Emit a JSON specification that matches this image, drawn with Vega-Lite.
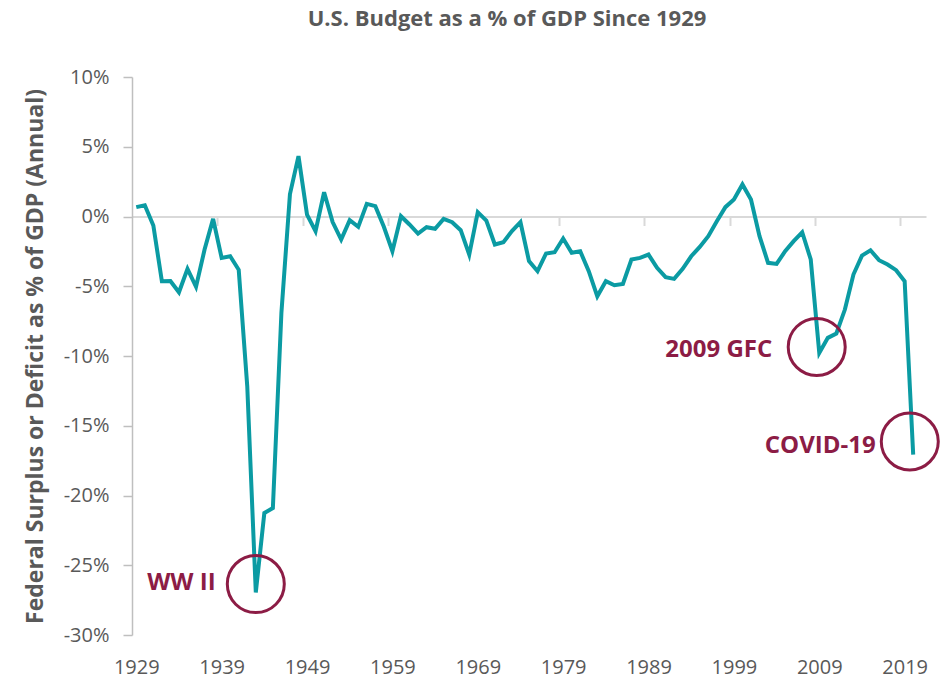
{
  "$schema": "https://vega.github.io/schema/vega-lite/v6.json",
  "width": 794,
  "height": 558,
  "autosize": "none",
  "padding": {"left": 132, "top": 77, "right": 26, "bottom": 50},
  "background": "white",
  "title": {"text": "U.S. Budget as a % of GDP Since 1929", "font": "Open Sans", "fontSize": 22, "fontWeight": "bold", "color": "#595959", "anchor": "middle", "dx": -22, "offset": 36},
  "config": {"view": {"stroke": null}, "font": "Open Sans"},
  "datasets": {
    "budget": [
      {"year": 1929, "pct": 0.67}, {"year": 1930, "pct": 0.81}, {"year": 1931, "pct": -0.65}, {"year": 1932, "pct": -4.64},
      {"year": 1933, "pct": -4.62}, {"year": 1934, "pct": -5.43}, {"year": 1935, "pct": -3.75}, {"year": 1936, "pct": -5.04},
      {"year": 1937, "pct": -2.37}, {"year": 1938, "pct": -0.17}, {"year": 1939, "pct": -2.97}, {"year": 1940, "pct": -2.85},
      {"year": 1941, "pct": -3.82}, {"year": 1942, "pct": -12.17}, {"year": 1943, "pct": -26.95}, {"year": 1944, "pct": -21.26},
      {"year": 1945, "pct": -20.9}, {"year": 1946, "pct": -6.9}, {"year": 1947, "pct": 1.6}, {"year": 1948, "pct": 4.33},
      {"year": 1949, "pct": 0.14}, {"year": 1950, "pct": -1.05}, {"year": 1951, "pct": 1.74}, {"year": 1952, "pct": -0.4},
      {"year": 1953, "pct": -1.65}, {"year": 1954, "pct": -0.26}, {"year": 1955, "pct": -0.74}, {"year": 1956, "pct": 0.91},
      {"year": 1957, "pct": 0.74}, {"year": 1958, "pct": -0.74}, {"year": 1959, "pct": -2.49}, {"year": 1960, "pct": 0.02},
      {"year": 1961, "pct": -0.57}, {"year": 1962, "pct": -1.22}, {"year": 1963, "pct": -0.77}, {"year": 1964, "pct": -0.88},
      {"year": 1965, "pct": -0.17}, {"year": 1966, "pct": -0.41}, {"year": 1967, "pct": -0.98}, {"year": 1968, "pct": -2.73},
      {"year": 1969, "pct": 0.31}, {"year": 1970, "pct": -0.29}, {"year": 1971, "pct": -2.01}, {"year": 1972, "pct": -1.84},
      {"year": 1973, "pct": -1.05}, {"year": 1974, "pct": -0.41}, {"year": 1975, "pct": -3.2}, {"year": 1976, "pct": -3.92},
      {"year": 1977, "pct": -2.65}, {"year": 1978, "pct": -2.56}, {"year": 1979, "pct": -1.58}, {"year": 1980, "pct": -2.6},
      {"year": 1981, "pct": -2.49}, {"year": 1982, "pct": -3.92}, {"year": 1983, "pct": -5.72}, {"year": 1984, "pct": -4.64},
      {"year": 1985, "pct": -4.93}, {"year": 1986, "pct": -4.83}, {"year": 1987, "pct": -3.08}, {"year": 1988, "pct": -2.97},
      {"year": 1989, "pct": -2.73}, {"year": 1990, "pct": -3.68}, {"year": 1991, "pct": -4.35}, {"year": 1992, "pct": -4.47},
      {"year": 1993, "pct": -3.75}, {"year": 1994, "pct": -2.85}, {"year": 1995, "pct": -2.18}, {"year": 1996, "pct": -1.41},
      {"year": 1997, "pct": -0.34}, {"year": 1998, "pct": 0.67}, {"year": 1999, "pct": 1.22}, {"year": 2000, "pct": 2.3},
      {"year": 2001, "pct": 1.22}, {"year": 2002, "pct": -1.41}, {"year": 2003, "pct": -3.32}, {"year": 2004, "pct": -3.4},
      {"year": 2005, "pct": -2.49}, {"year": 2006, "pct": -1.77}, {"year": 2007, "pct": -1.13}, {"year": 2008, "pct": -3.08},
      {"year": 2009, "pct": -9.78}, {"year": 2010, "pct": -8.7}, {"year": 2011, "pct": -8.39}, {"year": 2012, "pct": -6.67},
      {"year": 2013, "pct": -4.16}, {"year": 2014, "pct": -2.8}, {"year": 2015, "pct": -2.42}, {"year": 2016, "pct": -3.13},
      {"year": 2017, "pct": -3.44}, {"year": 2018, "pct": -3.85}, {"year": 2019, "pct": -4.64}, {"year": 2020, "pct": -17.07}
    ],
    "notes": [
      {"label": "WW II", "cx": 1943.0, "cy": -26.35, "tx": 1938.3, "ty": -26.28},
      {"label": "2009 GFC", "cx": 2008.7, "cy": -9.35, "tx": 2003.5, "ty": -9.56},
      {"label": "COVID-19", "cx": 2019.6, "cy": -16.13, "tx": 2015.6, "ty": -16.42}
    ]
  },
  "layer": [
    {
      "data": {"name": "budget"},
      "mark": {"type": "line", "color": "#0b9ba3", "strokeWidth": 4},
      "encoding": {
        "x": {
          "field": "year", "type": "quantitative",
          "scale": {"domain": [1928.5, 2021.5], "nice": false, "zero": false},
          "axis": {"orient": "bottom", "title": null, "values": [1929, 1939, 1949, 1959, 1969, 1979, 1989, 1999, 2009, 2019], "format": "d", "domain": false, "ticks": false, "grid": false, "labelFont": "Open Sans", "labelFontSize": 20, "labelColor": "#595959", "labelPadding": 22}
        },
        "y": {
          "field": "pct", "type": "quantitative",
          "scale": {"domain": [-30, 10], "nice": false, "zero": false},
          "axis": {"title": "Federal Surplus or Deficit as % of GDP (Annual)", "titleFont": "Open Sans", "titleFontSize": 23, "titleFontWeight": "bold", "titleColor": "#595959", "titlePadding": 16, "values": [-30, -25, -20, -15, -10, -5, 0, 5, 10], "labelExpr": "datum.value + '%'", "grid": false, "domainColor": "#bfbfbf", "domainWidth": 1.5, "tickColor": "#bfbfbf", "tickSize": 9, "tickWidth": 1.5, "labelFont": "Open Sans", "labelFontSize": 20, "labelColor": "#595959", "labelPadding": 14}
        }
      }
    },
    {
      "data": {"name": "notes"},
      "mark": {"type": "point", "shape": "circle", "filled": false, "stroke": "#8c1c45", "strokeWidth": 3, "size": 3250, "opacity": 1},
      "encoding": {
        "x": {
          "field": "cx", "type": "quantitative",
          "axis": {"orient": "bottom", "offset": -418.5, "title": null, "labels": false, "values": [1938.5, 1948.5, 1958.5, 1968.5, 1978.5, 1988.5, 1998.5, 2008.5, 2018.5], "domainColor": "#d9d9d9", "domainWidth": 2, "tickColor": "#d9d9d9", "tickSize": 9, "tickWidth": 2, "grid": false}
        },
        "y": {"field": "cy", "type": "quantitative", "axis": null}
      }
    },
    {
      "data": {"name": "notes"},
      "mark": {"type": "text", "align": "right", "baseline": "middle", "font": "Open Sans", "fontSize": 24, "fontWeight": "bold", "color": "#8c1c45"},
      "encoding": {
        "x": {"field": "tx", "type": "quantitative", "axis": null},
        "y": {"field": "ty", "type": "quantitative", "axis": null},
        "text": {"field": "label"}
      }
    }
  ],
  "resolve": {"axis": {"x": "independent", "y": "independent"}}
}
